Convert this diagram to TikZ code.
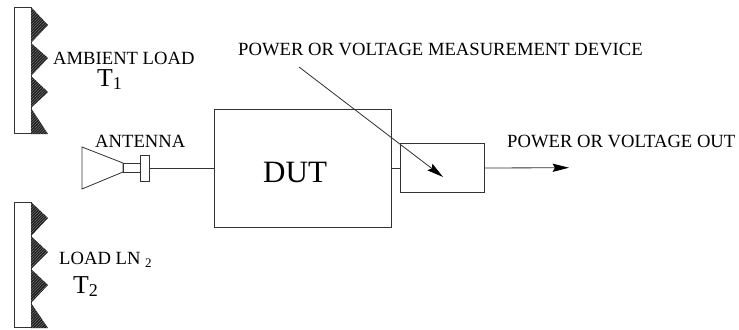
\documentclass[tikz,border=0pt]{standalone}
\usepackage{fontspec}
\setmainfont{Liberation Serif}
\usetikzlibrary{arrows.meta,patterns.meta}
\tikzset{
  block/.style={draw=black!80,line width=0.7pt,inner sep=0pt,anchor=north west},
  lbl/.style={inner sep=0pt,anchor=base west,font=\fontsize{15.9}{18}\selectfont},
  biglbl/.style={inner sep=0pt,anchor=base west,font=\fontsize{22}{24}\selectfont},
  wire/.style={draw=black!80,line width=0.7pt},
  tip/.style={-{Stealth[length=14pt,width=7pt,inset=2pt,color=black]}},
  wedge/.style={fill=black!88},
  hatch/.style={pattern={Lines[angle=45,distance=1.7pt,line width=0.3pt]},pattern color=black!45}
}
\begin{document}
\begin{tikzpicture}[x=0.3mm,y=-0.3mm]
      \useasboundingbox (0,0) rectangle (739,329);
      % top load
      \node[block,minimum width=17*0.85pt,minimum height=127*0.85pt] (panelA) at (14,7) {};
      \fill[wedge] (31,7) -- (48,25) -- (31,43) -- (48,58) -- (31,76) -- (48,92) -- (31,108) -- (48,134) -- (31,134) -- cycle;
      \fill[hatch] (31,7) -- (48,25) -- (31,43) -- (48,58) -- (31,76) -- (48,92) -- (31,108) -- (48,134) -- (31,134) -- cycle;
      % bottom load
      \node[block,minimum width=17*0.85pt,minimum height=126*0.85pt] (panelB) at (14,202) {};
      \fill[wedge] (31,202) -- (48,218) -- (31,236) -- (48,252) -- (31,269) -- (48,285) -- (31,303) -- (48,328) -- (31,328) -- cycle;
      \fill[hatch] (31,202) -- (48,218) -- (31,236) -- (48,252) -- (31,269) -- (48,285) -- (31,303) -- (48,328) -- (31,328) -- cycle;
      % antenna
      \draw[wire] (82,147) -- (123,163) -- (123,172) -- (82,189) -- cycle;
      \node[block,minimum width=17*0.85pt,minimum height=9*0.85pt] (neck) at (123,163) {};
      \node[block,minimum width=9*0.85pt,minimum height=26*0.85pt] (flange) at (140,154.7) {};
      % boxes
      \node[block,minimum width=178*0.85pt,minimum height=118*0.85pt] (dut) at (214,109) {};
      \node[block,minimum width=84*0.85pt,minimum height=50*0.85pt] (meter) at (400,142.7) {};
      \coordinate (outend) at (569,167.7);
      \coordinate (devstart) at (299,67);
      \coordinate (devend) at (443,177);
      \draw[wire] (flange.east) -- (dut.west |- flange.east);
      \draw[wire] (dut.east |- meter.west) -- (meter.west);
      \draw[wire,tip] (meter.east) -- (outend);
      \draw[wire,tip] (devstart) -- (devend);
      % labels
      \node[lbl] (ambient) at (53,64) {AMBIENT LOAD};
      \node[biglbl] (tone) at (97,86) {T\textsubscript{1}};
      \node[lbl] (antenna) at (95,147) {ANTENNA};
      \node[lbl] (load) at (59,264) {LOAD LN \textsubscript{2}};
      \node[biglbl] (ttwo) at (73,293) {T\textsubscript{2}};
      \node[biglbl,font=\fontsize{26.5}{30}\selectfont] (dutlabel) at (263,182) {DUT};
      \node[lbl] (device) at (238,55) {POWER OR VOLTAGE MEASUREMENT DEVICE};
      \node[lbl] (out) at (507,147) {POWER OR VOLTAGE OUT};
\end{tikzpicture}
\end{document}
